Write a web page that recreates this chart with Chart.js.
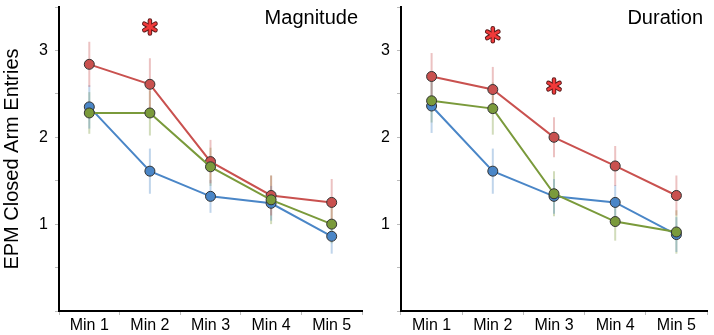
<!DOCTYPE html>
<html>
<head>
<meta charset="utf-8">
<script src="https://cdn.jsdelivr.net/npm/chart.js@4.4.1/dist/chart.umd.min.js"></script>
<style>
  html, body { margin: 0; padding: 0; background: #fff; }
  #wrap { position: relative; width: 714px; height: 335px; overflow: hidden; }
  canvas { position: absolute; top: 0; }
  #mag { left: 0; }
  #dur { left: 366px; }
</style>
</head>
<body>
<div id="wrap">
  <canvas id="mag" width="368" height="335"></canvas>
  <canvas id="dur" width="348" height="335"></canvas>
</div>
<script>
const minutes = ["Min 1", "Min 2", "Min 3", "Min 4", "Min 5"];

// Magnitude panel
const magRed = [2.84, 2.61, 1.72, 1.33, 1.25];
const magRedErr = [0.26, 0.30, 0.25, 0.23, 0.27];
const magGreen = [2.28, 2.28, 1.66, 1.28, 1.00];
const magGreenErr = [0.24, 0.26, 0.22, 0.28, 0.22];
const magBlue = [2.35, 1.61, 1.32, 1.24, 0.86];
const magBlueErr = [0.25, 0.26, 0.19, 0.20, 0.20];
const magStars = [{ x: "Min 2", y: 3.27 }];

// Duration panel
const durRed = [2.70, 2.55, 2.00, 1.67, 1.33];
const durRedErr = [0.27, 0.26, 0.23, 0.23, 0.23];
const durGreen = [2.42, 2.33, 1.35, 1.03, 0.91];
const durGreenErr = [0.25, 0.30, 0.26, 0.22, 0.25];
const durBlue = [2.36, 1.61, 1.32, 1.25, 0.88];
const durBlueErr = [0.31, 0.26, 0.20, 0.20, 0.20];
const durStars = [{ x: "Min 2", y: 3.18 }, { x: "Min 3", y: 2.59 }];

const yTicks = [1, 2, 3];

const RED = "#c9514f", GREEN = "#7a9a3b", BLUE = "#4a86c7";
const FONT = "'Liberation Sans', Arial, sans-serif";

Chart.defaults.font.family = FONT;
Chart.defaults.color = "#000";

const errorBars = {
    id: "errorBars",
    beforeDatasetsDraw(chart) {
        const ctx = chart.ctx, y = chart.scales.y;
        ctx.save();
        chart.data.datasets.forEach((ds, i) => {
            const meta = chart.getDatasetMeta(i);
            ctx.strokeStyle = ds.errColor;
            ctx.lineWidth = 2;
            meta.data.forEach((pt, j) => {
                const v = ds.data[j], e = ds.errors[j];
                ctx.beginPath();
                ctx.moveTo(pt.x, y.getPixelForValue(v + e));
                ctx.lineTo(pt.x, y.getPixelForValue(v - e));
                ctx.stroke();
            });
        });
        ctx.restore();
    }
};

const extras = {
    id: "extras",
    afterDraw(chart, args, opts) {
        const ctx = chart.ctx, x = chart.scales.x, y = chart.scales.y;
        ctx.save();
        ctx.font = "20px " + FONT;
        ctx.fillStyle = "#000";
        ctx.textAlign = "right";
        ctx.textBaseline = "alphabetic";
        ctx.fillText(opts.title, chart.chartArea.right - 4, 24);
        opts.stars.forEach(s => {
            const px = x.getPixelForValue(minutes.indexOf(s.x));
            const py = y.getPixelForValue(s.y);
            const r = 6.5;
            [[4.5, "#5a1a1a"], [2.6, "#f03a3a"]].forEach(([w, c]) => {
                ctx.strokeStyle = c;
                ctx.lineWidth = w;
                ctx.lineCap = "round";
                for (let k = 0; k < 3; k++) {
                    const a = Math.PI / 2 + k * Math.PI / 3;
                    ctx.beginPath();
                    ctx.moveTo(px - r * Math.cos(a), py - r * Math.sin(a));
                    ctx.lineTo(px + r * Math.cos(a), py + r * Math.sin(a));
                    ctx.stroke();
                }
            });
        });
        ctx.restore();
    }
};

function series(label, data, errors, color, errColor) {
    return {
        label, data, errors, errColor,
        borderColor: color,
        backgroundColor: color,
        pointBackgroundColor: color,
        pointBorderColor: "#333",
        pointBorderWidth: 1,
        pointRadius: 5,
        borderWidth: 2,
        tension: 0
    };
}

function makeChart(id, title, red, redErr, green, greenErr, blue, blueErr, stars, yWidth, showTitle, padRight) {
    new Chart(document.getElementById(id), {
        type: "line",
        data: {
            labels: minutes,
            datasets: [
                series("green", green, greenErr, GREEN, "rgba(122,154,59,0.35)"),
                series("blue", blue, blueErr, BLUE, "rgba(74,134,199,0.35)"),
                series("red", red, redErr, RED, "rgba(201,81,79,0.35)")
            ]
        },
        options: {
            responsive: false,
            animation: false,
            layout: { padding: { top: 7, right: padRight, left: 0, bottom: 0 } },
            plugins: {
                legend: { display: false },
                tooltip: { enabled: false },
                extras: { title, stars }
            },
            scales: {
                x: {
                    offset: true,
                    grid: { offset: true, drawOnChartArea: false, tickLength: 4, color: "#bbb" },
                    border: { color: "#000", width: 2 },
                    ticks: { font: { size: 16 }, padding: 1, maxRotation: 0 },
                    afterFit: s => { s.height = 24; s.paddingLeft = 0; s.paddingRight = 0; }
                },
                y: {
                    min: 0, max: 3.5,
                    grid: { drawOnChartArea: false, tickLength: 4, color: "#bbb" },
                    border: { color: "#000", width: 2 },
                    ticks: {
                        stepSize: 0.5, padding: 7, font: { size: 16 },
                        callback: v => yTicks.includes(v) ? String(v) : ""
                    },
                    title: {
                        display: showTitle, text: "EPM Closed Arm Entries",
                        font: { size: 20 }, padding: { top: 0, bottom: 0 }
                    },
                    afterFit: s => { s.width = yWidth; s.paddingTop = 0; s.paddingBottom = 0; }
                }
            }
        },
        plugins: [errorBars, extras]
    });
}

makeChart("mag", "Magnitude", magRed, magRedErr, magGreen, magGreenErr, magBlue, magBlueErr, magStars, 59, true, 3);
makeChart("dur", "Duration", durRed, durRedErr, durGreen, durGreenErr, durBlue, durBlueErr, durStars, 35, false, 7);
</script>
</body>
</html>
